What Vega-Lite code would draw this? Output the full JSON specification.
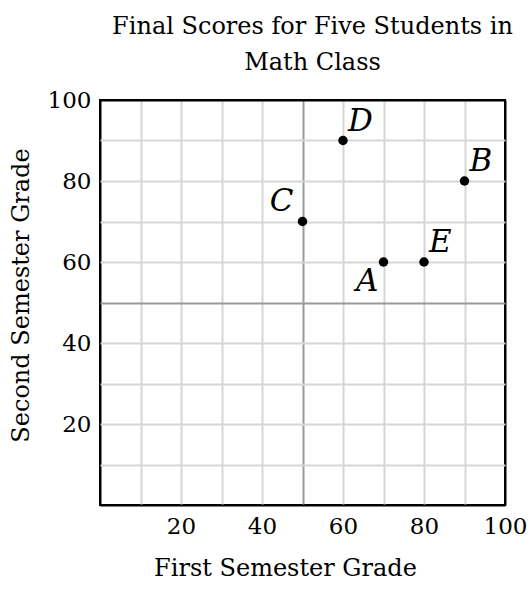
{
  "$schema": "https://vega.github.io/schema/vega-lite/v6.json",
  "autosize": "none",
  "padding": {"left": 100, "top": 100, "right": 25, "bottom": 87},
  "width": 405,
  "height": 405,
  "background": "white",
  "title": {
    "text": ["Final Scores for Five Students in", "Math Class"],
    "font": "DejaVu Serif",
    "fontSize": 24,
    "fontWeight": "normal",
    "lineHeight": 36,
    "anchor": "middle",
    "dx": 10,
    "offset": 14,
    "color": "black"
  },
  "config": {
    "view": {"stroke": "black", "strokeWidth": 2},
    "axis": {
      "labelFont": "DejaVu Serif",
      "titleFont": "DejaVu Serif",
      "labelFontSize": 23,
      "titleFontSize": 24,
      "titleFontWeight": "normal",
      "labelColor": "black",
      "titleColor": "black",
      "domain": false,
      "ticks": false,
      "grid": true,
      "gridWidth": 2,
      "gridColor": {"condition": [
        {"test": "datum.value == 0 || datum.value == 100", "value": "black"},
        {"test": "datum.value == 50", "value": "#999999"}
      ], "value": "#d6d6d6"}
    }
  },
  "data": {
    "values": [
      {"student": "A", "first": 70, "second": 60},
      {"student": "B", "first": 90, "second": 80},
      {"student": "C", "first": 50, "second": 70},
      {"student": "D", "first": 60, "second": 90},
      {"student": "E", "first": 80, "second": 60}
    ]
  },
  "encoding": {
    "x": {
      "field": "first", "type": "quantitative",
      "scale": {"domain": [0, 100], "nice": false},
      "axis": {
        "title": "First Semester Grade",
        "values": [0, 10, 20, 30, 40, 50, 60, 70, 80, 90, 100],
        "labelExpr": "datum.value % 20 == 0 && datum.value > 0 ? datum.label : ''",
        "labelPadding": 10,
        "titlePadding": 18,
        "titleX": 185,
        "labelFlush": false
      }
    },
    "y": {
      "field": "second", "type": "quantitative",
      "scale": {"domain": [0, 100], "nice": false},
      "axis": {
        "title": "Second Semester Grade",
        "values": [0, 10, 20, 30, 40, 50, 60, 70, 80, 90, 100],
        "labelExpr": "datum.value % 20 == 0 && datum.value > 0 ? datum.label : ''",
        "labelPadding": 9,
        "titlePadding": 14,
        "titleY": 195,
        "labelFlush": false
      }
    }
  },
  "layer": [
    {"mark": {"type": "circle", "size": 90, "color": "black", "opacity": 1}},
    {
      "transform": [{"filter": "indexof(['B','D','E'], datum.student) >= 0"}],
      "mark": {"type": "text", "font": "DejaVu Serif", "fontStyle": "italic", "fontSize": 31, "align": "left", "baseline": "middle", "dx": 5, "dy": -19, "color": "black"},
      "encoding": {"text": {"field": "student"}}
    },
    {
      "transform": [{"filter": "datum.student == 'C'"}],
      "mark": {"type": "text", "font": "DejaVu Serif", "fontStyle": "italic", "fontSize": 31, "align": "right", "baseline": "middle", "dx": -9, "dy": -20, "color": "black"},
      "encoding": {"text": {"field": "student"}}
    },
    {
      "transform": [{"filter": "datum.student == 'A'"}],
      "mark": {"type": "text", "font": "DejaVu Serif", "fontStyle": "italic", "fontSize": 31, "align": "right", "baseline": "middle", "dx": -5, "dy": 20, "color": "black"},
      "encoding": {"text": {"field": "student"}}
    }
  ]
}
